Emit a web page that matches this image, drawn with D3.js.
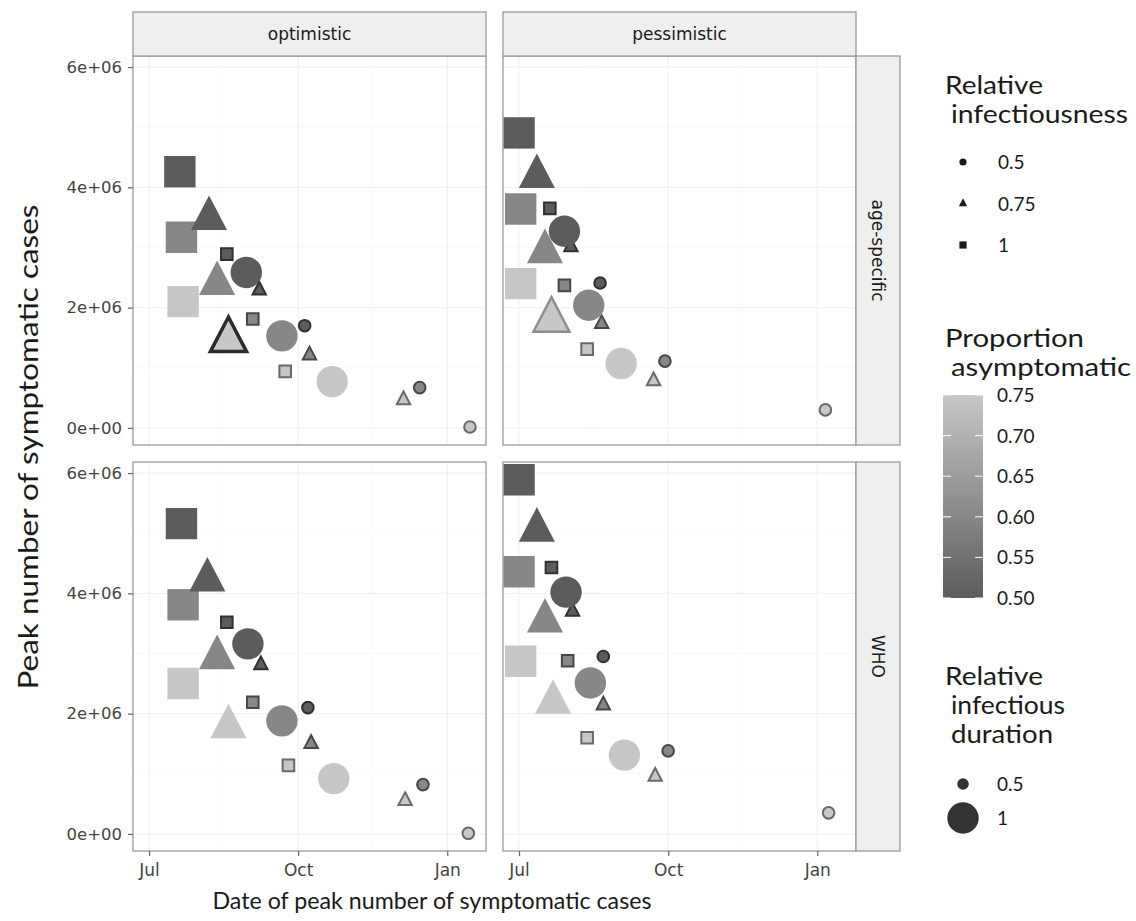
<!DOCTYPE html>
<html>
<head>
<meta charset="utf-8">
<script src="https://cdn.jsdelivr.net/npm/d3@7"></script>
<style>
  body { margin: 0; background: #fff; }
  text { font-family: Lato, "Open Sans", sans-serif; }
  .tick-label, .strip-label { font-family: "DejaVu Sans", sans-serif; }
</style>
</head>
<body>
<svg id="chart" width="1136" height="921"></svg>
<script>
// Facet levels: columns = scenario outlook, rows = severity assumption
const outlookLevels = ["optimistic", "pessimistic"];
const severityLevels = ["age-specific", "WHO"];

// Scenario grid shared by every panel (18 scenarios)
const infectiousness = [1, 1, 1, 1, 1, 1, 0.75, 0.75, 0.75, 0.75, 0.75, 0.75, 0.5, 0.5, 0.5, 0.5, 0.5, 0.5];
const duration       = [1, 1, 1, 0.5, 0.5, 0.5, 1, 1, 1, 0.5, 0.5, 0.5, 1, 1, 1, 0.5, 0.5, 0.5];
const asymptomatic   = [0.5, 0.6, 0.75, 0.5, 0.6, 0.75, 0.5, 0.6, 0.75, 0.5, 0.6, 0.75, 0.5, 0.6, 0.75, 0.5, 0.6, 0.75];

// Date of peak symptomatic cases, per panel
const peakDateOptimisticAge = ["2020-07-20","2020-07-21","2020-07-22","2020-08-18","2020-09-03","2020-09-23",
  "2020-08-07","2020-08-12","2020-08-19","2020-09-07","2020-10-08","2020-12-05",
  "2020-08-30","2020-09-21","2020-10-22","2020-10-05","2020-12-15","2021-01-15"];
const peakDatePessimisticAge = ["2020-07-01","2020-07-02","2020-07-02","2020-07-20","2020-07-29","2020-08-12",
  "2020-07-12","2020-07-17","2020-07-21","2020-08-02","2020-08-21","2020-09-22",
  "2020-07-29","2020-08-13","2020-09-02","2020-08-20","2020-09-29","2021-01-06"];
const peakDateOptimisticWHO = ["2020-07-21","2020-07-22","2020-07-22","2020-08-18","2020-09-03","2020-09-25",
  "2020-08-06","2020-08-12","2020-08-19","2020-09-08","2020-10-09","2020-12-06",
  "2020-08-31","2020-09-21","2020-10-23","2020-10-07","2020-12-17","2021-01-14"];
const peakDatePessimisticWHO = ["2020-07-01","2020-07-01","2020-07-02","2020-07-21","2020-07-31","2020-08-12",
  "2020-07-12","2020-07-17","2020-07-22","2020-08-03","2020-08-22","2020-09-23",
  "2020-07-30","2020-08-14","2020-09-04","2020-08-22","2020-10-01","2021-01-08"];

// Peak number of symptomatic cases, per panel
const peakCasesOptimisticAge = [4260000, 3170000, 2100000, 2890000, 1810000, 940000,
  3480000, 2400000, 1460000, 2290000, 1210000, 465000,
  2585000, 1530000, 770000, 1700000, 670000, 16000];
const peakCasesPessimisticAge = [4905000, 3640000, 2400000, 3650000, 2370000, 1310000,
  4180000, 2930000, 1790000, 3010000, 1730000, 780000,
  3270000, 2040000, 1070000, 2410000, 1110000, 300000];
const peakCasesOptimisticWHO = [5160000, 3810000, 2500000, 3520000, 2190000, 1140000,
  4220000, 2930000, 1780000, 2810000, 1500000, 550000,
  3160000, 1880000, 920000, 2100000, 820000, 10000];
const peakCasesPessimisticWHO = [5890000, 4360000, 2870000, 4430000, 2880000, 1600000,
  5050000, 3540000, 2190000, 3700000, 2140000, 955000,
  4020000, 2510000, 1310000, 2950000, 1380000, 350000];

// Baseline scenario drawn with an outline (index into the scenario grid)
const baselineScenario = 8;

// Axis breaks
const xTickDates = ["2020-07-01", "2020-10-01", "2021-01-01"];
const xTickLabels = ["Jul", "Oct", "Jan"];
const yTickValues = [0, 2000000, 4000000, 6000000];

// Legend breaks
const infectiousnessBreaks = [0.5, 0.75, 1];
const asymptomaticBreaks = [0.5, 0.55, 0.6, 0.65, 0.7, 0.75];
const durationBreaks = [0.5, 1];

const parseDate = d3.utcParse("%Y-%m-%d");

const panelSeries = [
  { col: 0, row: 0, dates: peakDateOptimisticAge, cases: peakCasesOptimisticAge, outline: "#2b2b2b", outlineWidth: 3.5 },
  { col: 1, row: 0, dates: peakDatePessimisticAge, cases: peakCasesPessimisticAge, outline: "#8e8e8e", outlineWidth: 2.5 },
  { col: 0, row: 1, dates: peakDateOptimisticWHO, cases: peakCasesOptimisticWHO, outline: null },
  { col: 1, row: 1, dates: peakDatePessimisticWHO, cases: peakCasesPessimisticWHO, outline: null }
];

const panels = panelSeries.map(p => ({
  ...p,
  points: p.dates.map((d, i) => ({
    i,
    date: parseDate(d),
    cases: p.cases[i],
    inf: infectiousness[i],
    dur: duration[i],
    asym: asymptomatic[i]
  }))
}));

// ---- layout ----
const colX = [133, 503];
const rowY = [56, 462];
const panelW = 353, panelH = 389;
const stripH = 44, stripW = 44;

// ---- scales (shared across facets, 5% expansion like ggplot) ----
const allPoints = panels.flatMap(p => p.points);
const [dMin, dMax] = d3.extent(allPoints, d => d.date);
const dPad = (dMax - dMin) * 0.05;
const x = d3.scaleUtc().domain([new Date(+dMin - dPad), new Date(+dMax + dPad)]).range([0, panelW]);
const [cMin, cMax] = d3.extent(allPoints, d => d.cases);
const cPad = (cMax - cMin) * 0.05;
const y = d3.scaleLinear().domain([cMin - cPad, cMax + cPad]).range([panelH, 0]);

const color = d3.scaleLinear().domain([0.5, 0.75]).range(["#5c5c5c", "#c7c7c7"]);
const radius = d3.scaleLinear().domain([0.5, 1]).range([5.8, 15.7]);

function shapePath(inf, r) {
  if (inf === 1) {
    return `M${-r},${-r}H${r}V${r}H${-r}Z`;
  }
  if (inf === 0.75) {
    const hw = r * 1.15, top = -r * 1.47, bot = r * 0.73;
    return `M0,${top}L${hw},${bot}L${-hw},${bot}Z`;
  }
  return `M${r},0A${r},${r} 0 1,1 ${-r},0A${r},${r} 0 1,1 ${r},0Z`;
}

function sciLabel(v) {
  const [m, e] = d3.format(".0e")(v).split("e");
  const sign = e[0] === "-" ? "-" : "+";
  return m + "e" + sign + e.replace(/[+-]/, "").padStart(2, "0");
}

const svg = d3.select("#chart");
svg.append("rect").attr("width", 1136).attr("height", 921).attr("fill", "#fff");

// ---- panels ----
panels.forEach(p => {
  const g = svg.append("g").attr("transform", `translate(${colX[p.col]},${rowY[p.row]})`);
  g.append("rect").attr("width", panelW).attr("height", panelH).attr("fill", "#fff");

  // faint grid
  const minorY = [1000000, 3000000, 5000000];
  const minorX = ["2020-08-15", "2020-11-15"].map(parseDate);
  g.selectAll(".gminy").data(minorY).join("line")
    .attr("x1", 0).attr("x2", panelW).attr("y1", d => y(d)).attr("y2", d => y(d))
    .attr("stroke", "#f7f7f7").attr("stroke-width", 0.8);
  g.selectAll(".gminx").data(minorX).join("line")
    .attr("y1", 0).attr("y2", panelH).attr("x1", d => x(d)).attr("x2", d => x(d))
    .attr("stroke", "#f7f7f7").attr("stroke-width", 0.8);
  g.selectAll(".gy").data(yTickValues).join("line")
    .attr("x1", 0).attr("x2", panelW).attr("y1", d => y(d)).attr("y2", d => y(d))
    .attr("stroke", "#f2f2f2").attr("stroke-width", 1.2);
  g.selectAll(".gx").data(xTickDates.map(parseDate)).join("line")
    .attr("y1", 0).attr("y2", panelH).attr("x1", d => x(d)).attr("x2", d => x(d))
    .attr("stroke", "#f2f2f2").attr("stroke-width", 1.2);

  // points
  g.selectAll("path.pt").data(p.points).join("path")
    .attr("class", "pt")
    .attr("transform", d => `translate(${x(d.date)},${y(d.cases)})`)
    .attr("d", d => shapePath(d.inf, radius(d.dur)))
    .attr("fill", d => color(d.asym))
    .attr("stroke", d => {
      if (p.outline && d.i === baselineScenario) return p.outline;
      return d.dur < 1 ? d3.color(color(d.asym)).darker(1.8) : "none";
    })
    .attr("stroke-width", d => (p.outline && d.i === baselineScenario) ? p.outlineWidth : 2)
    .attr("stroke-linejoin", "miter");

  g.append("rect").attr("width", panelW).attr("height", panelH)
    .attr("fill", "none").attr("stroke", "#9a9a9a").attr("stroke-width", 1.3);
});

// ---- strips ----
outlookLevels.forEach((lab, c) => {
  const g = svg.append("g").attr("transform", `translate(${colX[c]},${rowY[0] - stripH})`);
  g.append("rect").attr("width", panelW).attr("height", stripH)
    .attr("fill", "#efefef").attr("stroke", "#9a9a9a").attr("stroke-width", 1.3);
  g.append("text").attr("class", "strip-label")
    .attr("x", panelW / 2).attr("y", stripH / 2 + 6)
    .attr("text-anchor", "middle").attr("font-size", 17).attr("fill", "#1a1a1a")
    .text(lab);
});
severityLevels.forEach((lab, r) => {
  const g = svg.append("g").attr("transform", `translate(${colX[1] + panelW},${rowY[r]})`);
  g.append("rect").attr("width", stripW).attr("height", panelH)
    .attr("fill", "#efefef").attr("stroke", "#9a9a9a").attr("stroke-width", 1.3);
  g.append("text").attr("class", "strip-label")
    .attr("transform", `translate(${stripW / 2 - 6},${panelH / 2}) rotate(90)`)
    .attr("text-anchor", "middle").attr("font-size", 17).attr("fill", "#1a1a1a")
    .text(lab);
});

// ---- axes ----
rowY.forEach(ry => {
  const ax = svg.append("g").attr("transform", `translate(${colX[0]},${ry})`)
    .call(d3.axisLeft(y).tickValues(yTickValues).tickFormat(sciLabel).tickSize(5).tickPadding(6));
  ax.select(".domain").remove();
  ax.selectAll(".tick line").attr("stroke", "#666").attr("stroke-width", 1.2);
  ax.selectAll(".tick text").attr("class", "tick-label").attr("font-size", 16.5).attr("fill", "#444");
});
colX.forEach(cx => {
  const ax = svg.append("g").attr("transform", `translate(${cx},${rowY[1] + panelH})`)
    .call(d3.axisBottom(x).tickValues(xTickDates.map(parseDate))
      .tickFormat((d, i) => xTickLabels[i]).tickSize(5).tickPadding(8));
  ax.select(".domain").remove();
  ax.selectAll(".tick line").attr("stroke", "#666").attr("stroke-width", 1.2);
  ax.selectAll(".tick text").attr("class", "tick-label").attr("font-size", 17).attr("fill", "#444");
});

// axis titles
svg.append("text")
  .attr("x", 432).attr("y", 909).attr("text-anchor", "middle")
  .attr("font-size", 23).attr("fill", "#1a1a1a")
  .attr("textLength", 439).attr("lengthAdjust", "spacingAndGlyphs")
  .text("Date of peak number of symptomatic cases");
svg.append("text")
  .attr("transform", "translate(38,447) rotate(-90)").attr("text-anchor", "middle")
  .attr("font-size", 26).attr("fill", "#1a1a1a")
  .attr("textLength", 485).attr("lengthAdjust", "spacingAndGlyphs")
  .text("Peak number of symptomatic cases");

// ---- legends ----
const leg = svg.append("g");
const titleSize = 24.5, labelSize = 19, titleStep = 29;

// each title line: [text, rendered width]
function legendTitle(lines, x0, y0) {
  lines.forEach(([t, w], k) => {
    leg.append("text").attr("x", x0 + (k ? 6 : 0)).attr("y", y0 + k * titleStep)
      .attr("font-size", titleSize).attr("fill", "#1a1a1a")
      .attr("textLength", w).attr("lengthAdjust", "spacingAndGlyphs")
      .text(t);
  });
}

// shape legend
legendTitle([["Relative", 98], ["infectiousness", 177]], 945, 94);
const shapeY = d3.scalePoint().domain(infectiousnessBreaks).range([162, 245]);
infectiousnessBreaks.forEach(v => {
  leg.append("path")
    .attr("transform", `translate(963,${shapeY(v)})`)
    .attr("d", shapePath(v, 3.6)).attr("fill", "#1a1a1a");
  leg.append("text").attr("x", 998).attr("y", shapeY(v) + 7)
    .attr("font-size", labelSize).attr("fill", "#1a1a1a").text(v);
});

// colour bar
legendTitle([["Proportion", 139], ["asymptomatic", 180]], 945, 347);
const barTop = 395, barBottom = 598, barX = 943, barW = 40;
const cbar = d3.scaleLinear().domain([0.5, 0.75]).range([barBottom, barTop]);
const grad = svg.append("defs").append("linearGradient")
  .attr("id", "asymGrad").attr("x1", 0).attr("x2", 0).attr("y1", 1).attr("y2", 0);
d3.range(0, 1.0001, 0.1).forEach(t => {
  grad.append("stop").attr("offset", t).attr("stop-color", color(0.5 + t * 0.25));
});
leg.append("rect").attr("x", barX).attr("y", barTop).attr("width", barW).attr("height", barBottom - barTop)
  .attr("fill", "url(#asymGrad)");
asymptomaticBreaks.forEach(v => {
  const yy = cbar(v);
  leg.append("line").attr("x1", barX).attr("x2", barX + 8).attr("y1", yy).attr("y2", yy)
    .attr("stroke", "#fff").attr("stroke-width", 1);
  leg.append("line").attr("x1", barX + barW - 8).attr("x2", barX + barW).attr("y1", yy).attr("y2", yy)
    .attr("stroke", "#fff").attr("stroke-width", 1);
  leg.append("text").attr("x", 997).attr("y", yy + 7)
    .attr("font-size", labelSize).attr("fill", "#1a1a1a").text(d3.format(".2f")(v));
});

// size legend
legendTitle([["Relative", 98], ["infectious", 114], ["duration", 102]], 945, 685);
const sizeY = d3.scalePoint().domain(durationBreaks).range([784, 818]);
durationBreaks.forEach(v => {
  leg.append("path")
    .attr("transform", `translate(963,${sizeY(v)})`)
    .attr("d", shapePath(0.5, radius(v))).attr("fill", "#333");
  leg.append("text").attr("x", 997).attr("y", sizeY(v) + 7)
    .attr("font-size", labelSize).attr("fill", "#1a1a1a").text(v);
});
</script>
</body>
</html>
